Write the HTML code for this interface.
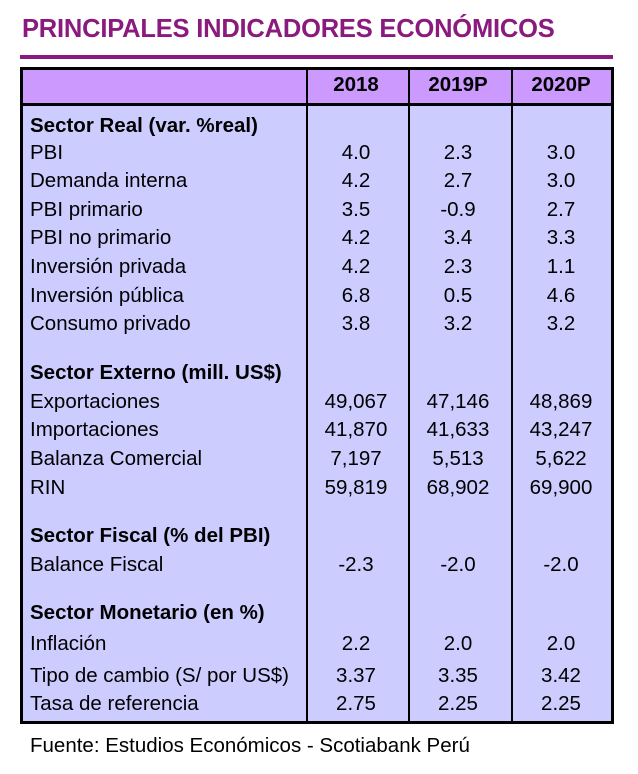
<!DOCTYPE html>
<html><head><meta charset="utf-8"><style>
body{margin:0;width:638px;height:774px;background:#fff;position:relative;overflow:hidden;font-family:"Liberation Sans",Arial,sans-serif;}
.t{position:absolute;white-space:nowrap;font-size:20.5px;color:#000;line-height:24px;}
.b{font-weight:bold;}
.c{text-align:center;width:100px;}
</style></head><body>
<div class="t b" style="left:22px;top:14px;font-size:25.5px;line-height:30px;color:#8B1A7F;letter-spacing:-0.2px;">PRINCIPALES INDICADORES ECONÓMICOS</div>
<div style="position:absolute;left:20px;top:55px;width:593px;height:4px;background:#8B1A7F;"></div>
<div style="position:absolute;left:20px;top:67px;width:588px;height:651px;border:3px solid #000;background:#CCCCFF;">
  <div style="position:absolute;left:0;top:0;width:588px;height:33px;background:#CC99FF;border-bottom:3px solid #000;"></div>
  <div style="position:absolute;left:283px;top:0;width:2px;height:651px;background:#000;"></div>
  <div style="position:absolute;left:385px;top:0;width:2px;height:651px;background:#000;"></div>
  <div style="position:absolute;left:488px;top:0;width:2px;height:651px;background:#000;"></div>
</div>
<div id="rows"></div>
<div class="t" style="left:30px;top:734px;">Fuente: Estudios Económicos - Scotiabank Perú</div>
<script>
const years=["2018","2019P","2020P"];
const rows=[
["Sector Real (var. %real)",126,null,1],
["PBI",153,["4.0","2.3","3.0"]],
["Demanda interna",181,["4.2","2.7","3.0"]],
["PBI primario",210,["3.5","-0.9","2.7"]],
["PBI no primario",238,["4.2","3.4","3.3"]],
["Inversión privada",267,["4.2","2.3","1.1"]],
["Inversión pública",296,["6.8","0.5","4.6"]],
["Consumo privado",324,["3.8","3.2","3.2"]],
["Sector Externo (mill. US$)",373,null,1],
["Exportaciones",402,["49,067","47,146","48,869"]],
["Importaciones",430,["41,870","41,633","43,247"]],
["Balanza Comercial",459,["7,197","5,513","5,622"]],
["RIN",488,["59,819","68,902","69,900"]],
["Sector Fiscal (% del PBI)",536,null,1],
["Balance Fiscal",565,["-2.3","-2.0","-2.0"]],
["Sector Monetario (en %)",613,null,1],
["Inflación",644,["2.2","2.0","2.0"]],
["Tipo de cambio (S/ por US$)",676,["3.37","3.35","3.42"]],
["Tasa de referencia",704,["2.75","2.25","2.25"]]
];
const colCenters=[356,458,561];
const root=document.getElementById('rows');
function add(txt,x,y,cls,name){
  const d=document.createElement('div');
  d.className='t '+cls;
  d.textContent=txt;
  d.style.left=x+'px';d.style.top=(y-12)+'px';
  
  
  root.appendChild(d);
}
years.forEach((y,i)=>add(y,colCenters[i]-50,85,'b c','year-header'));
rows.forEach(r=>{
  add(r[0],30,r[1],r[3]?'b':'',r[3]?'section-heading':'row-label');
  if(r[2]) r[2].forEach((v,i)=>add(v,colCenters[i]-50,r[1],'c','cell-value'));
});
</script>
</body></html>
